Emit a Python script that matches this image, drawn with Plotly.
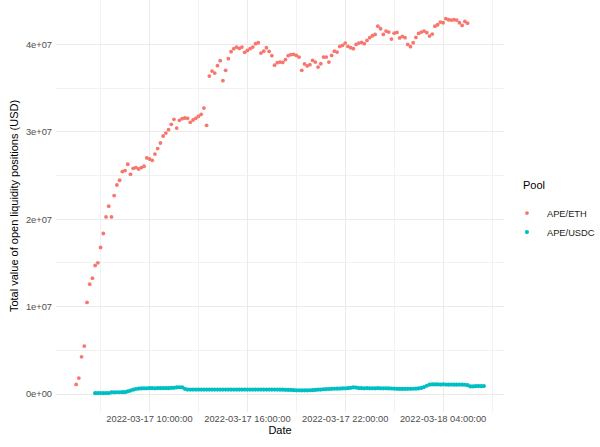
import pandas as pd
import plotly.graph_objects as go

# ---- data (values in USD millions) ----
eth_start = "2022-03-17 05:30"
eth_millions = [
    1.11, 1.83, 4.26, 5.49, 10.48, 12.57, 13.26, 14.71, 15.01, 16.77,
    18.37, 20.26, 21.49, 20.26, 22.71, 23.92, 24.46, 25.45, 25.57, 26.29,
    25.14, 25.83, 25.91, 25.75, 25.91, 26.06, 27.01, 26.89, 26.74, 27.46,
    28.08, 28.72, 29.52, 29.86, 30.25, 30.86, 31.43, 30.43, 31.31, 31.51,
    31.58, 31.54, 31.09, 31.35, 31.54, 31.77, 32.00, 32.72, 30.74, 36.38,
    36.95, 36.72, 37.57, 38.14, 35.85, 37.03, 38.37, 39.17, 39.51, 39.69,
    39.54, 39.69, 39.09, 39.31, 39.51, 39.69, 40.08, 40.19, 39.01, 39.23,
    39.62, 39.20, 38.71, 37.63, 37.91, 37.98, 37.94, 38.25, 38.71, 38.82,
    38.86, 38.74, 38.55, 37.03, 37.77, 37.54, 37.68, 38.17, 37.98, 37.41,
    37.79, 38.55, 38.55, 37.98, 38.74, 39.23, 39.12, 39.77, 39.89, 40.15,
    39.77, 39.62, 39.51, 40.00, 40.15, 40.23, 40.08, 40.46, 40.77, 40.99,
    41.14, 42.09, 41.79, 41.14, 41.52, 41.41, 40.61, 41.29, 41.37, 40.74,
    40.91, 40.77, 40.00, 39.74, 40.19, 40.80, 41.26, 41.41, 41.52, 41.34,
    40.95, 41.18, 42.09, 42.25, 42.55, 42.48, 42.94, 42.82, 42.78, 42.82,
    42.78, 42.48, 42.17, 42.63, 42.43,
]

usdc_start = "2022-03-17 06:40"
usdc_millions = [
    0.10, 0.10, 0.11, 0.10, 0.11, 0.11,
    0.20, 0.20, 0.21, 0.21, 0.22, 0.22,
    0.30, 0.40, 0.50, 0.58, 0.63, 0.65,
    0.66, 0.66, 0.67, 0.67, 0.66, 0.67,
    0.67, 0.68, 0.67, 0.68, 0.70, 0.72,
    0.76, 0.78, 0.77, 0.60, 0.52, 0.51,
    0.51, 0.51, 0.52, 0.51, 0.51, 0.52,
    0.51, 0.51, 0.52, 0.52, 0.51, 0.51,
    0.52, 0.51, 0.51, 0.52, 0.52, 0.51,
    0.51, 0.52, 0.51, 0.51, 0.51, 0.52,
    0.52, 0.51, 0.52, 0.51, 0.51, 0.52,
    0.51, 0.51, 0.50, 0.50, 0.49, 0.48,
    0.47, 0.45, 0.43, 0.43, 0.42, 0.43,
    0.43, 0.44, 0.45, 0.47, 0.50, 0.52,
    0.55, 0.57, 0.58, 0.60, 0.61, 0.62,
    0.63, 0.65, 0.66, 0.68, 0.72, 0.76,
    0.74, 0.68, 0.67, 0.66, 0.67, 0.66,
    0.66, 0.66, 0.67, 0.66, 0.66, 0.66,
    0.65, 0.64, 0.62, 0.60, 0.59, 0.59,
    0.59, 0.60, 0.60, 0.61, 0.62, 0.65,
    0.70, 0.80, 0.95, 1.08, 1.10, 1.10,
    1.10, 1.09, 1.10, 1.09, 1.08, 1.09,
    1.08, 1.08, 1.09, 1.08, 1.07, 1.02,
    0.88, 0.88, 0.90, 0.91, 0.90, 0.91,
]

pool_names = ["APE/ETH", "APE/USDC"]
pool_colors = ["#F8766D", "#00BFC4"]

y_tick_vals = [0, 1e7, 2e7, 3e7, 4e7]
y_tick_text = ["0e+00", "1e+07", "2e+07", "3e+07", "4e+07"]
x_tick_vals = ["2022-03-17 10:00", "2022-03-17 16:00", "2022-03-17 22:00", "2022-03-18 04:00"]
x_tick_text = ["2022-03-17 10:00:00", "2022-03-17 16:00:00", "2022-03-17 22:00:00", "2022-03-18 04:00:00"]

eth_x = pd.date_range(eth_start, periods=len(eth_millions), freq="10min")
usdc_x = pd.date_range(usdc_start, periods=len(usdc_millions), freq="10min")

FONT = "Liberation Sans, Arial, sans-serif"

fig = go.Figure()
fig.add_trace(go.Scatter(
    x=eth_x, y=[v * 1e6 for v in eth_millions], mode="markers", name=pool_names[0],
    marker=dict(color=pool_colors[0], size=3.8, line=dict(width=0)),
))
fig.add_trace(go.Scatter(
    x=usdc_x, y=[v * 1e6 for v in usdc_millions], mode="markers", name=pool_names[1],
    marker=dict(color=pool_colors[1], size=4.2, line=dict(width=0)),
))

fig.update_layout(
    width=600, height=447,
    margin=dict(l=55.5, r=91.5, t=0, b=35, pad=0),
    paper_bgcolor="white", plot_bgcolor="white",
    font=dict(family=FONT, size=9.3, color="#4D4D4D"),
    showlegend=True,
    legend=dict(x=1.0066, xanchor="left", y=0.518, yanchor="top",
                font=dict(family=FONT, size=9.3, color="#1A1A1A"),
                tracegroupgap=0, itemwidth=30, bgcolor="rgba(0,0,0,0)"),
    annotations=[dict(text="Pool", xref="paper", yref="paper", x=(526 - 55.5) / 453,
                      y=(412 - 185) / 412, xanchor="left", yanchor="middle", showarrow=False,
                      font=dict(family=FONT, size=11, color="black"))],
)

fig.update_xaxes(
    range=["2022-03-17 04:16", "2022-03-18 07:44"],
    tickmode="array", tickvals=x_tick_vals, ticktext=x_tick_text,
    showgrid=True, gridcolor="#EBEBEB", gridwidth=1,
    zeroline=False, showline=False, ticks="",
    tickfont=dict(family=FONT, size=9.3, color="#4D4D4D"),
    title=dict(text="Date", font=dict(family=FONT, size=11, color="black"), standoff=3),
    minor=dict(tickmode="array",
               tickvals=["2022-03-17 07:00", "2022-03-17 13:00", "2022-03-17 19:00",
                         "2022-03-18 01:00", "2022-03-18 07:00"],
               showgrid=True, gridcolor="#F2F2F2", gridwidth=0.6, ticks=""),
)
fig.update_yaxes(
    range=[-2.05e6, 45.08e6],
    tickmode="array", tickvals=y_tick_vals, ticktext=y_tick_text,
    showgrid=True, gridcolor="#EBEBEB", gridwidth=1,
    zeroline=False, showline=False, ticks="", ticklabelstandoff=3,
    tickfont=dict(family=FONT, size=9.3, color="#4D4D4D"),
    title=dict(text="Total value of open liquidity positions (USD)",
               font=dict(family=FONT, size=11, color="black"), standoff=5),
    minor=dict(tickmode="array", tickvals=[5e6, 1.5e7, 2.5e7, 3.5e7, 4.5e7],
               showgrid=True, gridcolor="#F2F2F2", gridwidth=0.6, ticks=""),
)

fig.write_html("out.html")
